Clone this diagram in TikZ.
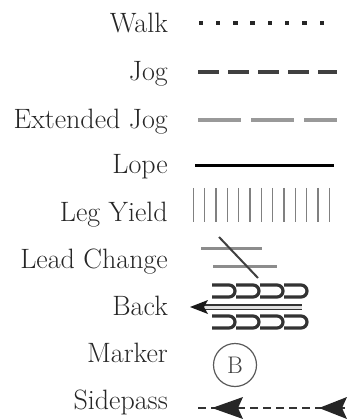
\documentclass[tikz,border=0pt]{standalone}
\usetikzlibrary{arrows.meta}
\begin{document}
\begin{tikzpicture}[x=1pt,y=-1pt,
  lbl/.style={anchor=base east,inner sep=0pt,text=black!85,font=\fontsize{28}{32}\selectfont},
  backshape/.style={line width=3.2pt,black!80},
  tri/.style={fill=black!85,draw=none}]
\useasboundingbox (0,0) rectangle (353,419);
% labels
\node[lbl] (walk) at (168,33) {Walk};
\node[lbl] (jog) at (168,81) {Jog};
\node[lbl] (ejog) at (168,129) {Extended Jog};
\node[lbl] (lope) at (168,174) {Lope};
\node[lbl] (leg) at (168,222) {Leg Yield};
\node[lbl] (lead) at (168,268) {Lead Change};
\node[lbl] (back) at (168,315) {Back};
\node[lbl] (marker) at (168,362) {Marker};
\node[lbl] (side) at (168,409) {Sidepass};
% walk dots
\foreach \i in {0,...,7} \fill[black!85] ({200.7+17.3*\i-2.2},20.8) rectangle ++(4.4,4.4);
% jog
\draw[black!75,line width=4.5pt,dash pattern=on 21pt off 9pt] (198,72) -- (337,72);
% extended jog
\draw[black!40,line width=4pt,dash pattern=on 43pt off 10pt] (198,120) -- (337,120);
% lope
\draw[black,line width=3pt] (195,166) -- (334,166);
% leg yield
\foreach \i in {0,...,12} \draw[black!50,line width=1.5pt] ({193.3+11.33*\i},188) -- ++(0,34);
% lead change
\draw[black!45,line width=3pt] (201,248) -- (262,248);
\draw[black!45,line width=3pt] (213,266) -- (277,266);
\draw[black!75,line width=2pt] (219,237) -- (258,278);
% back
\foreach \i in {0,...,3} {
  \draw[backshape] ({212+24*\i},285) -- ({212+24*\i+17},285) arc[start angle=-90,end angle=90,radius=6] -- ({212+24*\i},297);
  \draw[backshape] ({212+24*\i},316) -- ({212+24*\i+17},316) arc[start angle=-90,end angle=90,radius=6] -- ({212+24*\i},328);
}
\draw[black!80,line width=1.2pt,double=black!12,double distance=3pt] (204,307) -- (302,307);
\fill[black!90] (190,307) -- (208,300) -- (204,307) -- (208,314) -- cycle;
% marker
\node[draw=black!65,line width=1.2pt,circle,minimum size=43pt,inner sep=0pt,text=black!75,font=\fontsize{24}{28}\selectfont] (mk) at (235,365) {B};
% sidepass
\draw[black!80,line width=2.5pt,dash pattern=on 8pt off 5pt] (198,408) -- (345,408);
\fill[tri] (212,408) -- (243,397) -- (238,408) -- (243,419) -- cycle;
\fill[tri] (319,408) -- (347,397) -- (342,408) -- (347,419) -- cycle;
\end{tikzpicture}
\end{document}
